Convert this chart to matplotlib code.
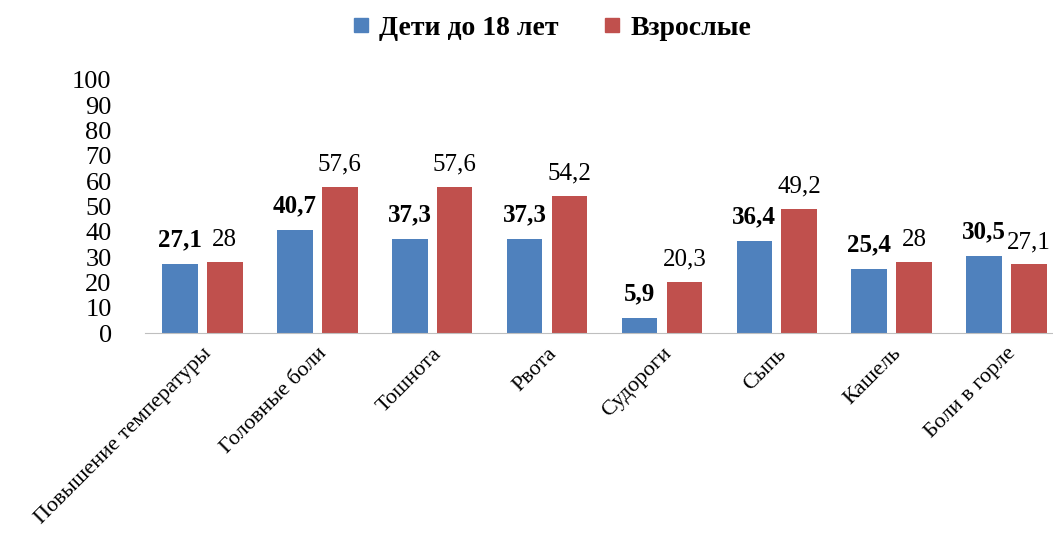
import numpy as np
import matplotlib
matplotlib.use('Agg')
import matplotlib.pyplot as plt
from matplotlib.lines import Line2D

plt.rcParams['font.family'] = ['Liberation Serif', 'DejaVu Serif']

categories = ['Повышение температуры', 'Головные боли', 'Тошнота', 'Рвота',
              'Судороги', 'Сыпь', 'Кашель', 'Боли в горле']
children = [27.1, 40.7, 37.3, 37.3, 5.9, 36.4, 25.4, 30.5]
adults = [28, 57.6, 57.6, 54.2, 20.3, 49.2, 28, 27.1]
series_names = ['Дети до 18 лет', 'Взрослые']
yticks = list(range(0, 101, 10))

blue = '#4F81BD'
red = '#C0504D'

def fmt(v):
    s = ('%g' % v).replace('.', ',')
    return s

fig = plt.figure(figsize=(10.53, 5.47), dpi=100)
W, H = 1053.0, 547.0
ax = fig.add_axes([145 / W, 214 / H, (1064 - 145) / W, (333 - 80) / H])

x = np.arange(len(categories))
bw = 0.31
off = 0.195
ax.bar(x - off, children, width=bw, color=blue, zorder=2)
ax.bar(x + off, adults, width=bw, color=red, zorder=2)

# value labels: children bold, adults regular
for xi, v in zip(x, children):
    ax.text(xi - off, v + 7, fmt(v), ha='center', va='baseline',
            fontsize=18, fontweight='bold')
for xi, v in zip(x, adults):
    ax.text(xi + off, v + 6.5, fmt(v), ha='center', va='baseline',
            fontsize=18)

ax.set_xlim(-0.5, len(categories) - 0.5)
ax.set_ylim(0, 100)
ax.set_yticks(yticks)
ax.set_yticklabels([str(t) for t in yticks], fontsize=19)
ax.tick_params(axis='y', length=0, pad=24)
ax.set_xticks(x)
ax.set_xticklabels(categories, rotation=45, ha='right', rotation_mode='anchor',
                   fontsize=16)
ax.tick_params(axis='x', length=0, pad=8)
for s in ['top', 'right', 'left']:
    ax.spines[s].set_visible(False)
ax.spines['bottom'].set_color('#BFBFBF')

handles = [Line2D([], [], marker='s', linestyle='none', markersize=10, color=blue),
           Line2D([], [], marker='s', linestyle='none', markersize=10, color=red)]
fig.legend(handles, series_names, loc='center', bbox_to_anchor=(551 / W, 1 - 28 / H),
           ncol=2, frameon=False, prop={'size': 20, 'weight': 'bold'},
           handlelength=0.7, handletextpad=0.3, columnspacing=1.6)

fig.savefig('out.png', dpi=100)
